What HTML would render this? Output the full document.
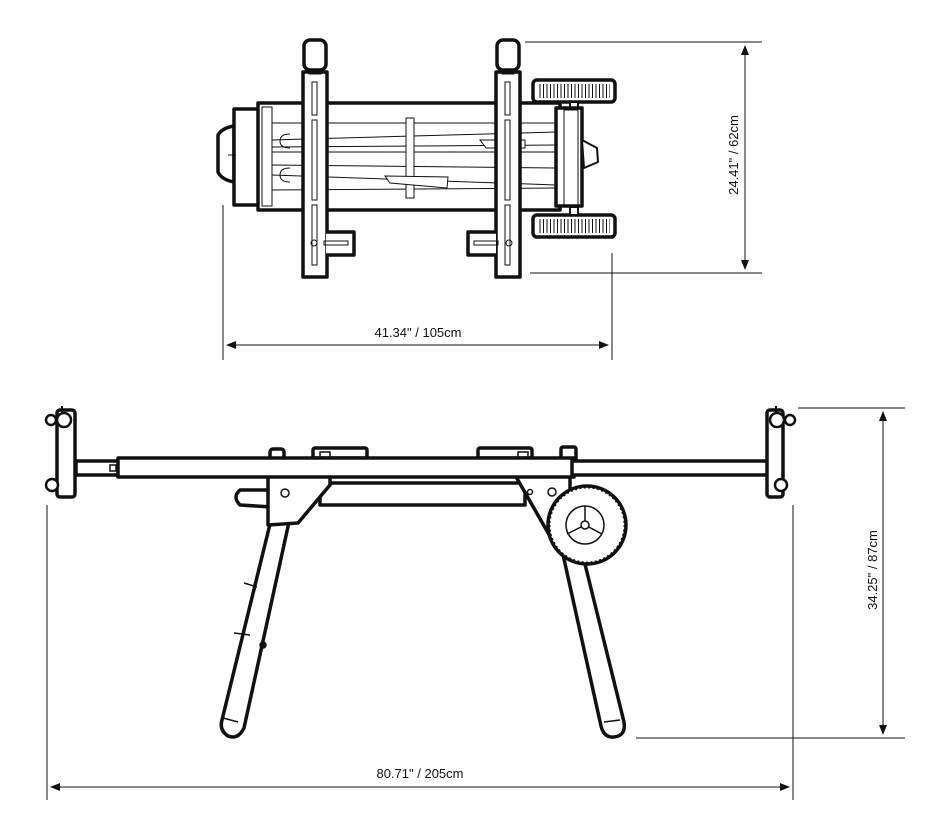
<!DOCTYPE html>
<html><head><meta charset="utf-8"><style>
html,body{margin:0;padding:0;background:#fff;}
svg{display:block;}
text{font-family:"Liberation Sans",sans-serif;font-size:13px;fill:#111;}
</style></head><body>
<svg width="943" height="840" viewBox="0 0 943 840" xmlns="http://www.w3.org/2000/svg">
<defs>
<marker id="a" markerWidth="10" markerHeight="8" refX="9" refY="4" orient="auto-start-reverse" markerUnits="userSpaceOnUse"><path d="M0,0 L10,4 L0,8 z" fill="#111"/></marker>
<pattern id="h" width="3.5" height="10" patternUnits="userSpaceOnUse"><line x1="1" y1="0" x2="1" y2="10" stroke="#111" stroke-width="1"/></pattern>
</defs>
<g stroke="#111" stroke-width="1" fill="none">
<line x1="525" y1="42" x2="762" y2="42"/>
<line x1="530" y1="273" x2="762" y2="273"/>
<line x1="745" y1="46" x2="745" y2="269" marker-start="url(#a)" marker-end="url(#a)"/>
<line x1="223" y1="205" x2="223" y2="360"/>
<line x1="612" y1="253" x2="612" y2="360"/>
<line x1="227" y1="345" x2="608" y2="345" marker-start="url(#a)" marker-end="url(#a)"/>
<line x1="47" y1="505" x2="47" y2="800"/>
<line x1="793" y1="505" x2="793" y2="800"/>
<line x1="51" y1="787" x2="789" y2="787" marker-start="url(#a)" marker-end="url(#a)"/>
<line x1="798" y1="408" x2="905" y2="408"/>
<line x1="636" y1="738" x2="905" y2="738"/>
<line x1="883" y1="412" x2="883" y2="734" marker-start="url(#a)" marker-end="url(#a)"/>
</g>
<text x="418" y="337" text-anchor="middle">41.34"  /  105cm</text>
<text x="420" y="778" text-anchor="middle">80.71"  /  205cm</text>
<text transform="translate(738,155) rotate(-90)" text-anchor="middle">24.41"  /  62cm</text>
<text transform="translate(877,570) rotate(-90)" text-anchor="middle">34.25"  /  87cm</text>

<!-- TOP VIEW -->
<g stroke="#111" fill="#fff" stroke-width="3.5" stroke-linejoin="round">
<rect x="533" y="80" width="82" height="22" rx="4"/>
<rect x="533" y="215" width="82" height="22" rx="4"/>
<rect x="570" y="102" width="8" height="8" stroke-width="2"/>
<rect x="570" y="207" width="8" height="8" stroke-width="2"/>
<path d="M218,135 Q222,128 234,126 L234,182 Q222,180 218,172 Z"/>
<rect x="234" y="109" width="26" height="96"/>
<rect x="258" y="103" width="302" height="107"/>
<rect x="556" y="108" width="26" height="98"/>
<path d="M582,140 L597,148 L598,162 L584,168 Z" stroke-width="2"/>
</g>
<rect x="538" y="84" width="72" height="14" fill="url(#h)"/>
<rect x="538" y="219" width="72" height="14" fill="url(#h)"/>
<g stroke="#111" fill="none" stroke-width="1">
<rect x="262" y="107" width="10" height="99"/>
<line x1="272" y1="123" x2="556" y2="123"/><line x1="272" y1="140" x2="556" y2="132"/>
<line x1="272" y1="147" x2="556" y2="145"/><line x1="272" y1="152" x2="556" y2="152"/>
<line x1="272" y1="165" x2="556" y2="168"/><line x1="272" y1="175" x2="556" y2="185"/>
<line x1="272" y1="190" x2="556" y2="188"/>
<rect x="406" y="118" width="8" height="80" fill="#fff"/>
<path d="M385,176 L448,177 L447,188 L390,183 Z" fill="#fff"/>
<path d="M480,140 L525,140 L525,148 L486,148 Z" fill="#fff"/>
<rect x="564" y="110" width="14" height="96"/>
<path d="M290,134 q-10,0 -10,7 q0,7 10,7" /><path d="M290,168 q-10,0 -10,7 q0,7 10,7"/>
<line x1="228" y1="155" x2="236" y2="155"/>
</g>
<g stroke="#111" fill="#fff" stroke-width="3.5" stroke-linejoin="round">
<rect x="304" y="40" width="22" height="30" rx="6"/>
<rect x="303" y="72" width="24" height="205"/>
<path d="M326,232 L354,232 L354,255 L326,255"/>
<rect x="497" y="40" width="22" height="30" rx="6"/>
<rect x="496" y="72" width="24" height="205"/>
<path d="M496,232 L468,232 L468,255 L496,255"/>
</g>
<g stroke="#111" fill="none" stroke-width="1">
<rect x="312" y="82" width="5" height="33"/><rect x="312" y="120" width="5" height="80"/><rect x="312" y="205" width="5" height="60"/>
<rect x="505" y="82" width="5" height="33"/><rect x="505" y="120" width="5" height="80"/><rect x="505" y="205" width="5" height="60"/>
<circle cx="314" cy="243" r="3"/><circle cx="509" cy="243" r="3"/>
<rect x="324" y="241" width="24" height="4"/><rect x="474" y="241" width="24" height="4"/>
<rect x="309" y="70" width="12" height="4"/><rect x="502" y="70" width="12" height="4"/>
</g>

<!-- SIDE VIEW -->
<g stroke="#111" fill="#fff" stroke-width="3.5" stroke-linejoin="round">
<path d="M271,520 L289,522 L244,728 Q238,740 228,736 Q219,730 222,720 Z"/>
<path d="M562,550 L582,552 L624,722 Q626,736 614,737 Q604,738 601,726 Z"/>
<path d="M272,490 L240,490 Q232,497 240,505 L272,507 Z"/>
<rect x="320" y="483" width="205" height="22"/>
<path d="M268,475 L330,475 L330,485 L298,523 L268,525 Z"/>
<path d="M515,475 L570,475 L570,525 L555,545 Z"/>
<rect x="313" y="448" width="54" height="10" rx="2"/>
<rect x="478" y="448" width="54" height="10" rx="2"/>
<rect x="270" y="449" width="14" height="10" rx="3"/>
<rect x="561" y="447" width="15" height="14" rx="2"/>
<rect x="76" y="461" width="45" height="14"/>
<rect x="118" y="458" width="456" height="19"/>
<rect x="572" y="461" width="208" height="14"/>
<rect x="57" y="410" width="18" height="87" rx="3"/>
<rect x="767" y="410" width="16" height="87" rx="3"/>
<circle cx="587" cy="525" r="39"/>
</g>
<circle cx="587" cy="525" r="38" fill="none" stroke="#111" stroke-width="3" stroke-dasharray="2 2.5"/>
<g stroke="#111" fill="none" stroke-width="1.5">
<circle cx="585" cy="525" r="19"/>
<line x1="585" y1="525" x2="585" y2="506"/><line x1="585" y1="525" x2="567" y2="534"/><line x1="585" y1="525" x2="602" y2="534"/>
<circle cx="585" cy="525" r="4" fill="#fff"/>
<circle cx="285" cy="493" r="4"/><circle cx="530" cy="492" r="2.5"/><circle cx="552" cy="492" r="4"/>
<line x1="244" y1="583" x2="257" y2="587"/><line x1="234" y1="633" x2="250" y2="635"/>
<line x1="223" y1="718" x2="238" y2="722"/><line x1="604" y1="722" x2="620" y2="720"/>
<circle cx="263" cy="645" r="3" fill="#111"/>
<rect x="110" y="465" width="6" height="6"/>
<rect x="320" y="452" width="10" height="6"/><rect x="518" y="452" width="10" height="6"/>
</g>
<g stroke="#111" fill="#fff" stroke-width="2.5">
<circle cx="51" cy="420" r="5"/><circle cx="64" cy="420" r="7"/><circle cx="52" cy="485" r="6"/>
<circle cx="790" cy="420" r="5"/><circle cx="777" cy="420" r="7"/><circle cx="781" cy="485" r="6"/>
</g>
<g stroke="#111" stroke-width="2"><line x1="62" y1="406" x2="62" y2="413"/><line x1="776" y1="406" x2="776" y2="413"/></g>
</svg>
</body></html>
